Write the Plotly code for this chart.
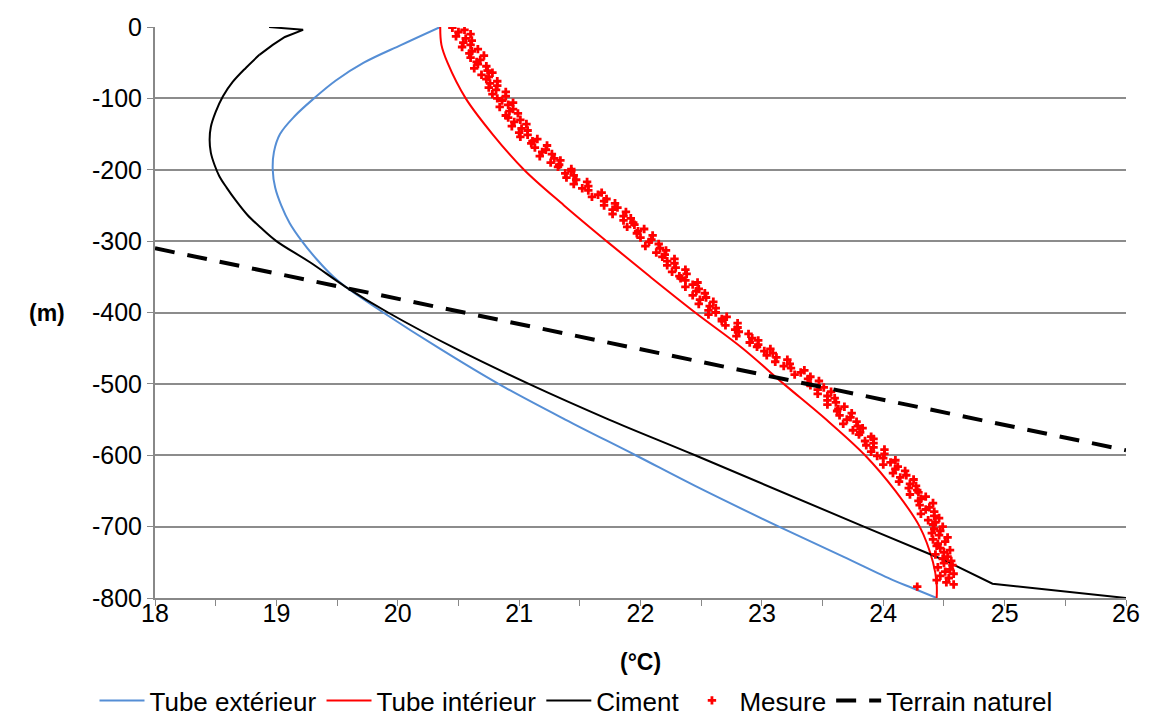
import plotly.graph_objects as go

# --- Tube extérieur (°C, m)
ext_temp = [20.35, 20.03, 19.72, 19.49, 19.31, 19.15, 19.03, 18.98, 18.97, 18.99, 19.04,
            19.11, 19.21, 19.33, 19.47, 19.57, 19.88, 20.34, 20.83, 21.38, 21.96, 22.45,
            23.14, 23.67, 24.08, 24.24, 24.44]
ext_depth = [0, -25, -50, -75, -100, -125, -150, -175, -200, -225, -250,
             -275, -300, -325, -350, -364, -400, -450, -500, -550, -600, -643,
             -700, -742, -775, -786, -800]

# --- Tube intérieur
int_temp = [20.35, 20.36, 20.41, 20.56, 20.78, 21.04, 21.37, 21.72, 22.08, 22.45, 22.84, 23.18,
            23.53, 23.85, 24.10, 24.30, 24.41, 24.44, 24.44]
int_depth = [0, -25, -50, -100, -150, -200, -250, -300, -350, -400, -450, -500,
             -550, -600, -650, -700, -750, -780, -800]

# --- Ciment
cim_temp = [18.94, 19.22, 19.07, 18.97, 18.86, 18.75, 18.64, 18.56, 18.50, 18.46, 18.45, 18.46,
            18.49, 18.53, 18.59, 18.67, 18.76, 18.87, 19.00, 19.28, 19.57, 19.92, 20.47, 21.08,
            21.74, 22.45, 23.84, 24.49, 24.90, 26.00]
cim_depth = [0, -4, -14, -25, -39, -57, -77, -97, -119, -140, -158, -176,
             -193, -209, -225, -244, -263, -281, -300, -330, -364, -400, -450, -500,
             -550, -600, -700, -746, -780, -800]

# --- Terrain naturel
ter_temp = [18, 26]
ter_depth = [-310, -593]

# --- Mesure
mes_depth = [
    -1, -4, -7, -10, -13, -16, -19, -22,
    -25, -28, -31, -34, -37, -40, -43, -46, -49,
    -52, -55, -58, -61, -64, -67, -70, -73,
    -76, -79, -82, -85, -88, -91, -94, -97,
    -100, -103, -106, -109, -112, -115, -118, -121, -124,
    -127, -130, -133, -136, -139, -142, -145, -148,
    -151, -154, -157, -160, -163, -166, -169, -172,
    -175, -178, -181, -184, -187, -190, -193, -196, -199,
    -202, -205, -208, -211, -214, -217, -220, -223,
    -226, -229, -232, -235, -238, -241, -244, -247,
    -250, -253, -256, -259, -262, -265, -268, -271, -274,
    -277, -280, -283, -286, -289, -292, -295, -298,
    -301, -304, -307, -310, -313, -316, -319, -322,
    -325, -328, -331, -334, -337, -340, -343, -346, -349,
    -352, -355, -358, -361, -364, -367, -370, -373,
    -376, -379, -382, -385, -388, -391, -394, -397,
    -400, -403, -406, -409, -412, -415, -418, -421, -424,
    -427, -430, -433, -436, -439, -442, -445, -448,
    -451, -454, -457, -460, -463, -466, -469, -472,
    -475, -478, -481, -484, -487, -490, -493, -496, -499,
    -502, -505, -508, -511, -514, -517, -520, -523,
    -526, -529, -532, -535, -538, -541, -544, -547,
    -550, -553, -556, -559, -562, -565, -568, -571, -574,
    -577, -580, -583, -586, -589, -592, -595, -598,
    -601, -604, -607, -610, -613, -616, -619, -622,
    -625, -628, -631, -634, -637, -640, -643, -646, -649,
    -652, -655, -658, -661, -664, -667, -670, -673,
    -676, -679, -682, -685, -688, -691, -694, -697,
    -700, -703, -706, -709, -712, -715, -718, -721, -724,
    -727, -730, -733, -736, -739, -742, -745, -748,
    -751, -754, -757, -760, -763, -766, -769, -772, -775, -778, -781, -784,
]
mes_temp = [
    20.45, 20.55, 20.50, 20.60, 20.48, 20.56, 20.61, 20.54,
    20.60, 20.53, 20.66, 20.61, 20.59, 20.71, 20.60, 20.68, 20.65,
    20.66, 20.73, 20.63, 20.74, 20.78, 20.69, 20.75, 20.73,
    20.82, 20.76, 20.82, 20.75, 20.81, 20.89, 20.78, 20.89,
    20.82, 20.86, 20.95, 20.91, 20.84, 20.95, 20.92, 20.99, 20.89,
    20.91, 21.01, 20.96, 21.06, 20.94, 21.02, 21.07, 21.00,
    21.07, 21.01, 21.15, 21.11, 21.10, 21.23, 21.13, 21.22,
    21.19, 21.27, 21.17, 21.29, 21.34, 21.26, 21.33, 21.32, 21.43,
    21.43, 21.38, 21.45, 21.39, 21.47, 21.56, 21.45, 21.57,
    21.52, 21.57, 21.68, 21.65, 21.60, 21.72, 21.70, 21.79,
    21.70, 21.81, 21.77, 21.88, 21.77, 21.86, 21.92, 21.86, 21.94,
    21.95, 21.89, 22.03, 21.98, 21.97, 22.10, 22.00, 22.09,
    22.07, 22.15, 22.04, 22.16, 22.21, 22.13, 22.20, 22.18,
    22.28, 22.22, 22.28, 22.22, 22.29, 22.37, 22.26, 22.38, 22.32,
    22.33, 22.37, 22.47, 22.43, 22.37, 22.48, 22.46, 22.53,
    22.43, 22.54, 22.49, 22.60, 22.48, 22.57, 22.62, 22.56,
    22.62, 22.56, 22.71, 22.67, 22.67, 22.80, 22.70, 22.80, 22.78,
    22.81, 22.89, 22.79, 22.92, 22.97, 22.90, 22.97, 22.96,
    23.07, 23.02, 23.09, 23.04, 23.12, 23.21, 23.11, 23.23,
    23.18, 23.24, 23.35, 23.32, 23.27, 23.40, 23.38, 23.47, 23.38,
    23.40, 23.51, 23.46, 23.57, 23.46, 23.54, 23.60, 23.54,
    23.61, 23.54, 23.68, 23.63, 23.62, 23.74, 23.64, 23.73,
    23.70, 23.78, 23.67, 23.79, 23.83, 23.75, 23.81, 23.80, 23.90,
    23.92, 23.85, 23.92, 23.86, 23.92, 24.01, 23.90, 24.01,
    23.95, 24.00, 24.10, 24.06, 24.00, 24.12, 24.10, 24.18,
    24.08, 24.19, 24.14, 24.25, 24.13, 24.22, 24.27, 24.21, 24.28,
    24.29, 24.22, 24.35, 24.31, 24.29, 24.41, 24.30, 24.38,
    24.35, 24.42, 24.31, 24.42, 24.46, 24.37, 24.43, 24.41,
    24.49, 24.42, 24.47, 24.40, 24.46, 24.53, 24.41, 24.51, 24.45,
    24.44, 24.47, 24.55, 24.50, 24.43, 24.53, 24.49, 24.56,
    24.50, 24.57, 24.45, 24.55, 24.51, 24.58, 24.47, 24.54, 24.44, 24.52, 24.58, 24.28,
]

x_ticks = [18, 19, 20, 21, 22, 23, 24, 25, 26]
y_ticks = [0, -100, -200, -300, -400, -500, -600, -700, -800]
y_ticktext = ["0", "-100", "-200", "-300", "-400", "-500", "-600", "-700", "-800"]

FONT = "Liberation Sans, Arial, sans-serif"
BLACK_LINE = dict(color="#000000", width=2)

fig = go.Figure()
fig.add_trace(go.Scatter(x=ext_temp, y=ext_depth, mode="lines", name="Tube extérieur",
                         line=dict(color="#558ED5", width=2, shape="spline", smoothing=1.0)))
fig.add_trace(go.Scatter(x=int_temp, y=int_depth, mode="lines", name="Tube intérieur",
                         line=dict(color="#FF0000", width=2, shape="spline", smoothing=1.0)))
# Ciment: sharp corners at the top and bottom, smooth in between
fig.add_trace(go.Scatter(x=cim_temp[:5], y=cim_depth[:5], mode="lines", name="Ciment",
                         legendgroup="cim", showlegend=True, line=BLACK_LINE))
fig.add_trace(go.Scatter(x=cim_temp[4:27], y=cim_depth[4:27], mode="lines", name="Ciment",
                         legendgroup="cim", showlegend=False,
                         line=dict(color="#000000", width=2, shape="spline", smoothing=1.0)))
fig.add_trace(go.Scatter(x=cim_temp[26:], y=cim_depth[26:], mode="lines", name="Ciment",
                         legendgroup="cim", showlegend=False, line=BLACK_LINE))
fig.add_trace(go.Scatter(x=mes_temp, y=mes_depth, mode="markers", name="Mesure",
                         marker=dict(symbol="cross", size=7, color="#FF0000", line=dict(width=0))))
fig.add_trace(go.Scatter(x=ter_temp, y=ter_depth, mode="lines", name="Terrain naturel",
                         line=dict(color="#000000", width=4, dash="20px,13px")))

fig.update_layout(
    width=1152, height=724,
    margin=dict(l=155, r=17, t=27, b=126),
    paper_bgcolor="white", plot_bgcolor="white",
    font=dict(family=FONT, size=25, color="black"),
    showlegend=True,
    legend=dict(orientation="h", xref="container", yref="container",
                x=0.5, xanchor="center", y=0.0, yanchor="bottom",
                font=dict(size=26), itemwidth=45, tracegroupgap=0),
    xaxis=dict(range=[18, 26], tickvals=x_ticks, ticks="outside", ticklen=6,
               tickcolor="#888888", showgrid=False, showline=True, linecolor="#888888",
               linewidth=2, zeroline=False, ticklabelstandoff=-14,
               minor=dict(dtick=0.5, ticks="outside", ticklen=6, tickcolor="#888888", showgrid=False),
               tickfont=dict(size=25)),
    yaxis=dict(range=[-800, 0], tickvals=y_ticks, ticktext=y_ticktext, ticks="outside",
               ticklen=6, tickcolor="#888888", showgrid=True, gridcolor="#8c8c8c", gridwidth=1.5,
               showline=True, linecolor="#888888", linewidth=2, zeroline=False,
               tickfont=dict(size=25)),
    annotations=[
        dict(text="<b>(m)</b>", xref="paper", yref="y", x=-0.091, y=-400, xanchor="right",
             yanchor="middle", showarrow=False, font=dict(size=23)),
        dict(text="<b>(°C)</b>", xref="x", yref="paper", x=22, y=-0.112, xanchor="center",
             yanchor="middle", showarrow=False, font=dict(size=23)),
    ],
)

fig.write_html("out.html")
